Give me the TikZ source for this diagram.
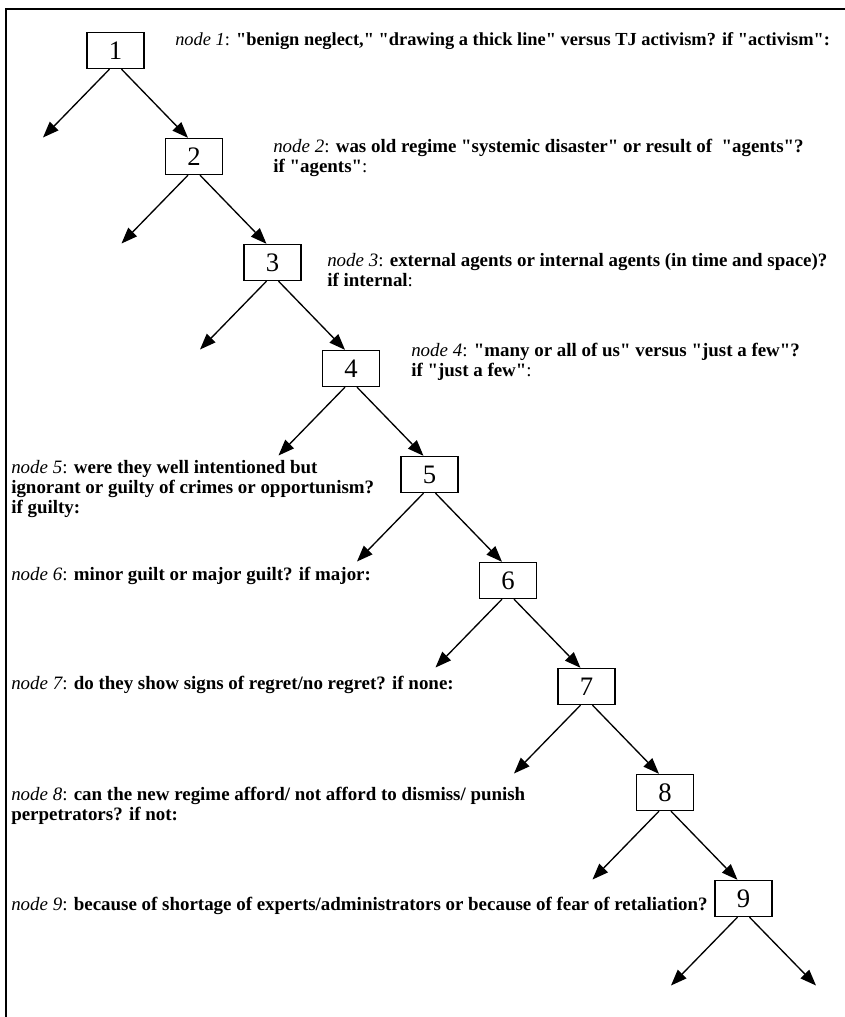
\documentclass[tikz,border=0pt]{standalone}
\usepackage{fontspec}
\setmainfont{Liberation Serif}
\usetikzlibrary{arrows.meta}
\newcommand\nlab[1]{{\mdseries\itshape node #1}{\mdseries:}}
\newcommand\rc{{\mdseries:}}
\newcommand\dq{\XeTeXglyph\XeTeXcharglyph"22\relax}
\tikzset{
  box/.style={draw, line width=1pt, minimum width=42.75pt, minimum height=27pt, inner sep=0pt, font=\fontsize{20}{20}\selectfont},
  arr/.style={line width=1pt, -{Triangle[length=12pt,width=9pt]}},
  txt/.style={anchor=base west, align=left, inner sep=0pt, font=\fontsize{14.2}{15}\selectfont\bfseries},
}
\begin{document}
\begin{tikzpicture}[x=0.75pt, y=-0.75pt]
\useasboundingbox (0,0) rectangle (845,1017);
\coordinate (ftr) at (845,9);
\coordinate (fbl) at (6,1017);
\draw[line width=1.5pt] (ftr) -| (fbl);
\foreach \i in {1,...,9} {
  \node[box] (n\i) at ({115.5+78.5*(\i-1)}, {50.5+106*(\i-1)}) {\i};
  \coordinate (l\i) at ({115.5+78.5*(\i-1)-72.5}, {50.5+106*(\i-1)+87});
}
\coordinate (r9) at ({743.5+72.5}, {898.5+87});
\foreach \i in {1,...,9} {
  \draw[arr] ([xshift=-4.5pt]n\i.south) -- (l\i);
}
\foreach \i/\j in {1/2,2/3,3/4,4/5,5/6,6/7,7/8,8/9} {
  \draw[arr] ([xshift=4.5pt]n\i.south) -- ([xshift=-4.5pt]n\j.north);
}
\draw[arr] ([xshift=4.5pt]n9.south) -- (r9);
% multi-line nodes: anchor is the baseline of the last line (leading 15pt = 20px)
\node[txt, font=\fontsize{13.8}{15}\selectfont\bfseries] (t1) at (175,45) {\nlab{1} \dq benign neglect,\dq{} \dq drawing a thick line\dq{} versus TJ activism? if \dq activism\dq:};
\node[txt] (t2) at (273,{152+20}) {\nlab{2} was old regime \dq systemic disaster\dq{} or result of \ \dq agents\dq?\\ if \dq agents\dq\rc};
\node[txt] (t3) at (327,{266+20}) {\nlab{3} external agents or internal agents (in time and space)?\\ if internal\rc};
\node[txt] (t4) at (411,{356+20}) {\nlab{4} \dq many or all of us\dq{} versus \dq just a few\dq?\\ if \dq just a few\dq\rc};
\node[txt] (t5) at (11,{473+40}) {\nlab{5} were they well intentioned but\\ ignorant or guilty of crimes or opportunism?\\ if guilty:};
\node[txt] (t6) at (11,580) {\nlab{6} minor guilt or major guilt? if major:};
\node[txt] (t7) at (11,689) {\nlab{7} do they show signs of regret/no regret? if none:};
\node[txt] (t8) at (11,{800+20}) {\nlab{8} can the new regime afford/ not afford to dismiss/ punish\\ perpetrators? if not:};
\node[txt] (t9) at (11,910) {\nlab{9} because of shortage of experts/administrators or because of fear of retaliation?};
\end{tikzpicture}
\end{document}
